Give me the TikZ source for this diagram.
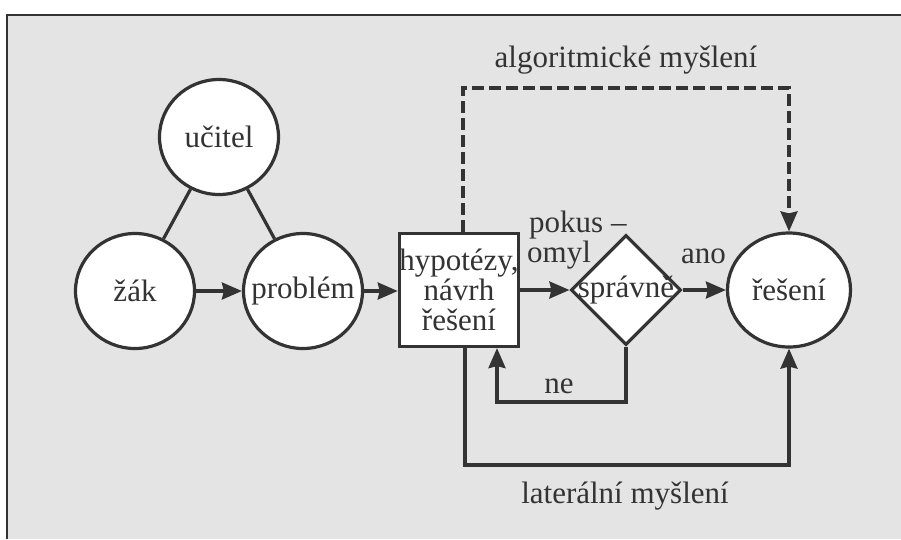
\documentclass[tikz,border=0pt]{standalone}
\usepackage{fontspec}
\setmainfont{Liberation Serif}
\usetikzlibrary{shapes.geometric,arrows.meta}
\definecolor{ink}{HTML}{333333}
\definecolor{paper}{HTML}{E4E4E4}
\begin{document}
\begin{tikzpicture}[x=1pt,y=-1pt,
  txt/.style={font=\fontsize{31}{30}\selectfont, text=ink},
  bubble/.style={ellipse, draw=ink, line width=3.2pt, fill=white, minimum width=119pt, minimum height=115pt, inner sep=0pt, txt},
  boxnode/.style={rectangle, draw=ink, line width=3.2pt, fill=white, minimum width=119pt, minimum height=113pt, inner sep=0pt, align=center, txt},
  decision/.style={diamond, draw=ink, line width=3.2pt, fill=white, minimum width=110pt, minimum height=110pt, inner sep=0pt},
  conn/.style={draw=ink, line width=3.2pt},
  arr/.style={conn, -{Stealth[length=20pt,width=17pt,inset=2pt]}},
  dashconn/.style={arr, dash pattern=on 12pt off 5pt},
  lbl/.style={txt, inner sep=0pt}
]
\useasboundingbox (0,0) rectangle (901,539);
\fill[white] (0,0) rectangle (901,539);
\fill[paper] (7,15) rectangle (901,539);
\draw[ink, line width=2.4pt] (7,539) -- (7,15) -- (901,15);

\node[bubble] (ucitel) at (219,137) {\makebox[0pt]{učitel}};
\node[bubble] (zak) at (135,291) {\makebox[0pt]{žák}};
\node[bubble] (problem) at (303,291) {\makebox[0pt]{problém}};
\node[boxnode] (hyp) at (459,290) {hypotézy,\\návrh\\řešení};
\node[decision] (spr) at (626,290) {};
\node[lbl] (sprtext) at (spr) {správně};
\node[bubble, minimum width=123pt, minimum height=114pt] (reseni) at (789,290) {\makebox[0pt]{řešení}};

\coordinate (d1) at (463,88);
\coordinate (d2) at (789,88);
\coordinate (neL) at (497,402);
\coordinate (latL) at (465,465);

\draw[conn] (ucitel) -- (zak);
\draw[conn] (ucitel) -- (problem);
\draw[arr] (zak) -- (problem);
\draw[arr] (problem.east) -- (hyp.west |- problem.east);
\draw[arr] (hyp.east |- spr.west) -- (spr.west);
\draw[arr] (spr.east) -- (reseni.west);
\draw[dashconn] (hyp.north -| d1) -- (d1) -- (d2) -- (reseni.north);
\draw[arr] (spr.south) |- (neL) -- (neL |- hyp.south);
\draw[arr] (hyp.south -| latL) -- (latL) -| (reseni.south);

\node[lbl, anchor=base] (alg) at (626,67) {algoritmické myšlení};
\node[lbl, anchor=base west] (pokus) at (529,232) {pokus –};
\node[lbl, anchor=base west] (omyl) at (527,262) {omyl};
\node[lbl, anchor=base east] (ano) at (726,263) {ano};
\node[lbl, anchor=base] (ne) at (559,393) {ne};
\node[lbl, anchor=base] (lat) at (625,503) {laterální myšlení};
\end{tikzpicture}
\end{document}
